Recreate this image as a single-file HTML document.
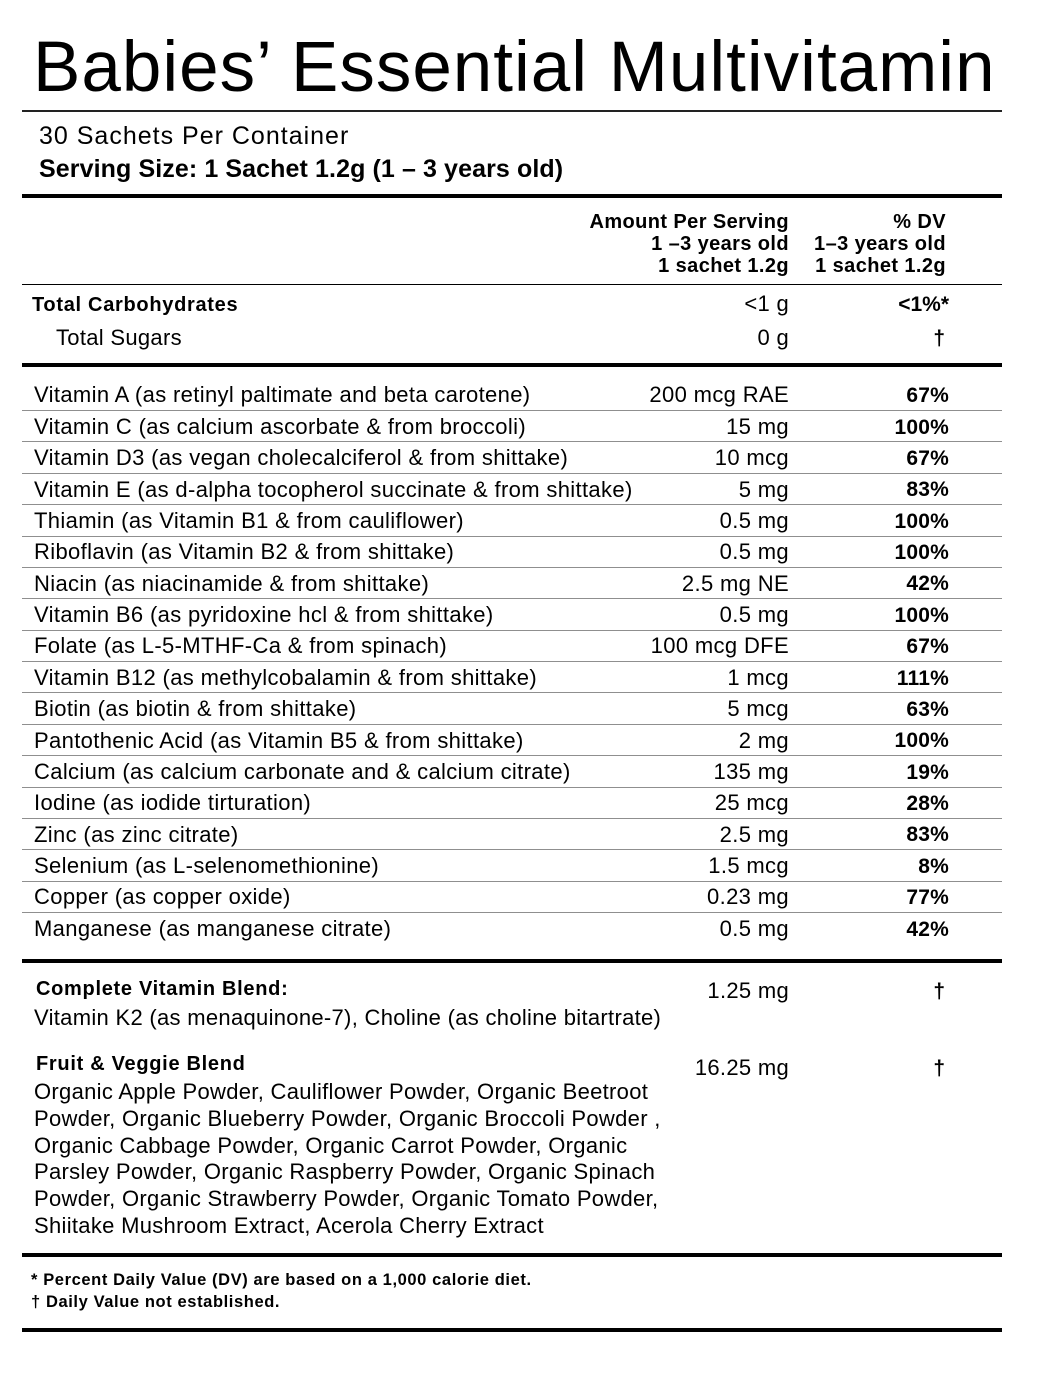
<!DOCTYPE html>
<html>
<head>
<meta charset="utf-8">
<style>
  html, body { margin:0; padding:0; background:#fff; }
  body { width:1037px; height:1379px; position:relative; overflow:hidden;
         font-family:"Liberation Sans", Arial, sans-serif; color:#000; }
  .a { position:absolute; white-space:nowrap; line-height:1; }
  .ln { position:absolute; left:22px; width:980px; background:#000; }
  .g { position:absolute; left:22px; width:980px; height:1px; background:#8f8f8f; }
  .r { position:absolute; left:0; width:1037px; height:26px; font-size:22px; line-height:1; letter-spacing:0.35px; }
  .r .l { position:absolute; left:34px; top:0; white-space:nowrap; }
  .r .m { position:absolute; right:248px; top:0; white-space:nowrap; }
  .r .d { position:absolute; right:88px; top:0.8px; font-size:21px; font-weight:bold; letter-spacing:0.2px; white-space:nowrap; }
  .b20 { font-size:20px; font-weight:bold; letter-spacing:0.7px; }
</style>
</head>
<body>

<div class="a" style="left:33px; top:31.9px; font-size:71px; letter-spacing:1px;">Babies’ Essential Multivitamin</div>
<div class="ln" style="top:110px; height:2px; background:#222;"></div>

<div class="a" style="left:39px; top:123.8px; font-size:25px; letter-spacing:1px;">30 Sachets Per Container</div>
<div class="a" style="left:39px; top:156.8px; font-size:25px; font-weight:bold; letter-spacing:0.1px;">Serving Size: 1 Sachet 1.2g (1 – 3 years old)</div>

<div class="ln" style="top:194px; height:4px;"></div>

<div class="a" style="right:248px; top:211px; font-size:20px; font-weight:bold; line-height:22px; text-align:right; letter-spacing:0.4px;">Amount Per Serving<br>1 –3 years old<br>1 sachet 1.2g</div>
<div class="a" style="right:91px; top:211px; font-size:20px; font-weight:bold; line-height:22px; text-align:right; letter-spacing:0.4px;">% DV<br>1–3 years old<br>1 sachet 1.2g</div>

<div class="ln" style="top:284px; height:1px;"></div>

<!-- Carbs -->
<div class="a b20" style="left:32px; top:295.1px;">Total Carbohydrates</div>
<div class="a" style="right:248px; top:293.4px; font-size:22px; letter-spacing:0.3px;">&lt;1 g</div>
<div class="a" style="right:88px; top:294.2px; font-size:21px; font-weight:bold;">&lt;1%*</div>

<div class="a" style="left:56px; top:327.4px; font-size:22px; letter-spacing:0.3px;">Total Sugars</div>
<div class="a" style="right:248px; top:327.4px; font-size:22px; letter-spacing:0.3px;">0 g</div>
<div class="a" style="right:92px; top:328.2px; font-size:21px; font-weight:bold;">†</div>

<div class="ln" style="top:363px; height:4px;"></div>

<!-- Nutrient rows -->
<div class="r" style="top:384.4px;"><span class="l">Vitamin A (as retinyl paltimate and beta carotene)</span><span class="m">200 mcg RAE</span><span class="d">67%</span></div>
<div class="g" style="top:410px;"></div>
<div class="r" style="top:415.8px;"><span class="l">Vitamin C (as calcium ascorbate &amp; from broccoli)</span><span class="m">15 mg</span><span class="d">100%</span></div>
<div class="g" style="top:441px;"></div>
<div class="r" style="top:447.1px;"><span class="l">Vitamin D3 (as vegan cholecalciferol &amp; from shittake)</span><span class="m">10 mcg</span><span class="d">67%</span></div>
<div class="g" style="top:473px;"></div>
<div class="r" style="top:478.5px;"><span class="l">Vitamin E (as d-alpha tocopherol succinate &amp; from shittake)</span><span class="m">5 mg</span><span class="d">83%</span></div>
<div class="g" style="top:504px;"></div>
<div class="r" style="top:509.9px;"><span class="l">Thiamin (as Vitamin B1 &amp; from cauliflower)</span><span class="m">0.5 mg</span><span class="d">100%</span></div>
<div class="g" style="top:536px;"></div>
<div class="r" style="top:541.3px;"><span class="l">Riboflavin (as Vitamin B2 &amp; from shittake)</span><span class="m">0.5 mg</span><span class="d">100%</span></div>
<div class="g" style="top:567px;"></div>
<div class="r" style="top:572.6px;"><span class="l">Niacin (as niacinamide &amp; from shittake)</span><span class="m">2.5 mg NE</span><span class="d">42%</span></div>
<div class="g" style="top:598px;"></div>
<div class="r" style="top:604.0px;"><span class="l">Vitamin B6 (as pyridoxine hcl &amp; from shittake)</span><span class="m">0.5 mg</span><span class="d">100%</span></div>
<div class="g" style="top:630px;"></div>
<div class="r" style="top:635.4px;"><span class="l">Folate (as L-5-MTHF-Ca &amp; from spinach)</span><span class="m">100 mcg DFE</span><span class="d">67%</span></div>
<div class="g" style="top:661px;"></div>
<div class="r" style="top:666.8px;"><span class="l">Vitamin B12 (as methylcobalamin &amp; from shittake)</span><span class="m">1 mcg</span><span class="d">111%</span></div>
<div class="g" style="top:692px;"></div>
<div class="r" style="top:698.1px;"><span class="l">Biotin (as biotin &amp; from shittake)</span><span class="m">5 mcg</span><span class="d">63%</span></div>
<div class="g" style="top:724px;"></div>
<div class="r" style="top:729.5px;"><span class="l">Pantothenic Acid (as Vitamin B5 &amp; from shittake)</span><span class="m">2 mg</span><span class="d">100%</span></div>
<div class="g" style="top:755px;"></div>
<div class="r" style="top:760.9px;"><span class="l">Calcium (as calcium carbonate and &amp; calcium citrate)</span><span class="m">135 mg</span><span class="d">19%</span></div>
<div class="g" style="top:787px;"></div>
<div class="r" style="top:792.3px;"><span class="l">Iodine (as iodide tirturation)</span><span class="m">25 mcg</span><span class="d">28%</span></div>
<div class="g" style="top:818px;"></div>
<div class="r" style="top:823.6px;"><span class="l">Zinc (as zinc citrate)</span><span class="m">2.5 mg</span><span class="d">83%</span></div>
<div class="g" style="top:849px;"></div>
<div class="r" style="top:855.0px;"><span class="l">Selenium (as L-selenomethionine)</span><span class="m">1.5 mcg</span><span class="d">8%</span></div>
<div class="g" style="top:881px;"></div>
<div class="r" style="top:886.4px;"><span class="l">Copper (as copper oxide)</span><span class="m">0.23 mg</span><span class="d">77%</span></div>
<div class="g" style="top:912px;"></div>
<div class="r" style="top:917.8px;"><span class="l">Manganese (as manganese citrate)</span><span class="m">0.5 mg</span><span class="d">42%</span></div>

<div class="ln" style="top:959px; height:4px;"></div>

<!-- Blends -->
<div class="a b20" style="left:36px; top:978.6px;">Complete Vitamin Blend:</div>
<div class="a" style="right:248px; top:980.4px; font-size:22px; letter-spacing:0.3px;">1.25 mg</div>
<div class="a" style="right:92px; top:981.2px; font-size:21px; font-weight:bold;">†</div>
<div class="a" style="left:34px; top:1007.4px; font-size:22px; letter-spacing:0.3px;">Vitamin K2 (as menaquinone-7), Choline (as choline bitartrate)</div>

<div class="a b20" style="left:36px; top:1053.6px;">Fruit &amp; Veggie Blend</div>
<div class="a" style="right:248px; top:1057.4px; font-size:22px; letter-spacing:0.3px;">16.25 mg</div>
<div class="a" style="right:92px; top:1058.2px; font-size:21px; font-weight:bold;">†</div>
<div class="a" style="left:34px; top:1079px; font-size:22px; line-height:26.8px; letter-spacing:0.3px;">Organic Apple Powder, Cauliflower Powder, Organic Beetroot<br>Powder, Organic Blueberry Powder, Organic Broccoli Powder ,<br>Organic Cabbage Powder, Organic Carrot Powder, Organic<br>Parsley Powder, Organic Raspberry Powder, Organic Spinach<br>Powder, Organic Strawberry Powder, Organic Tomato Powder,<br>Shiitake Mushroom Extract, Acerola Cherry Extract</div>

<div class="ln" style="top:1253px; height:4px;"></div>

<div class="a" style="left:31px; top:1268.8px; font-size:16.5px; font-weight:bold; line-height:22px; letter-spacing:0.6px;">* Percent Daily Value (DV) are based on a 1,000 calorie diet.<br>† Daily Value not established.</div>

<div class="ln" style="top:1328px; height:4px;"></div>

</body>
</html>
